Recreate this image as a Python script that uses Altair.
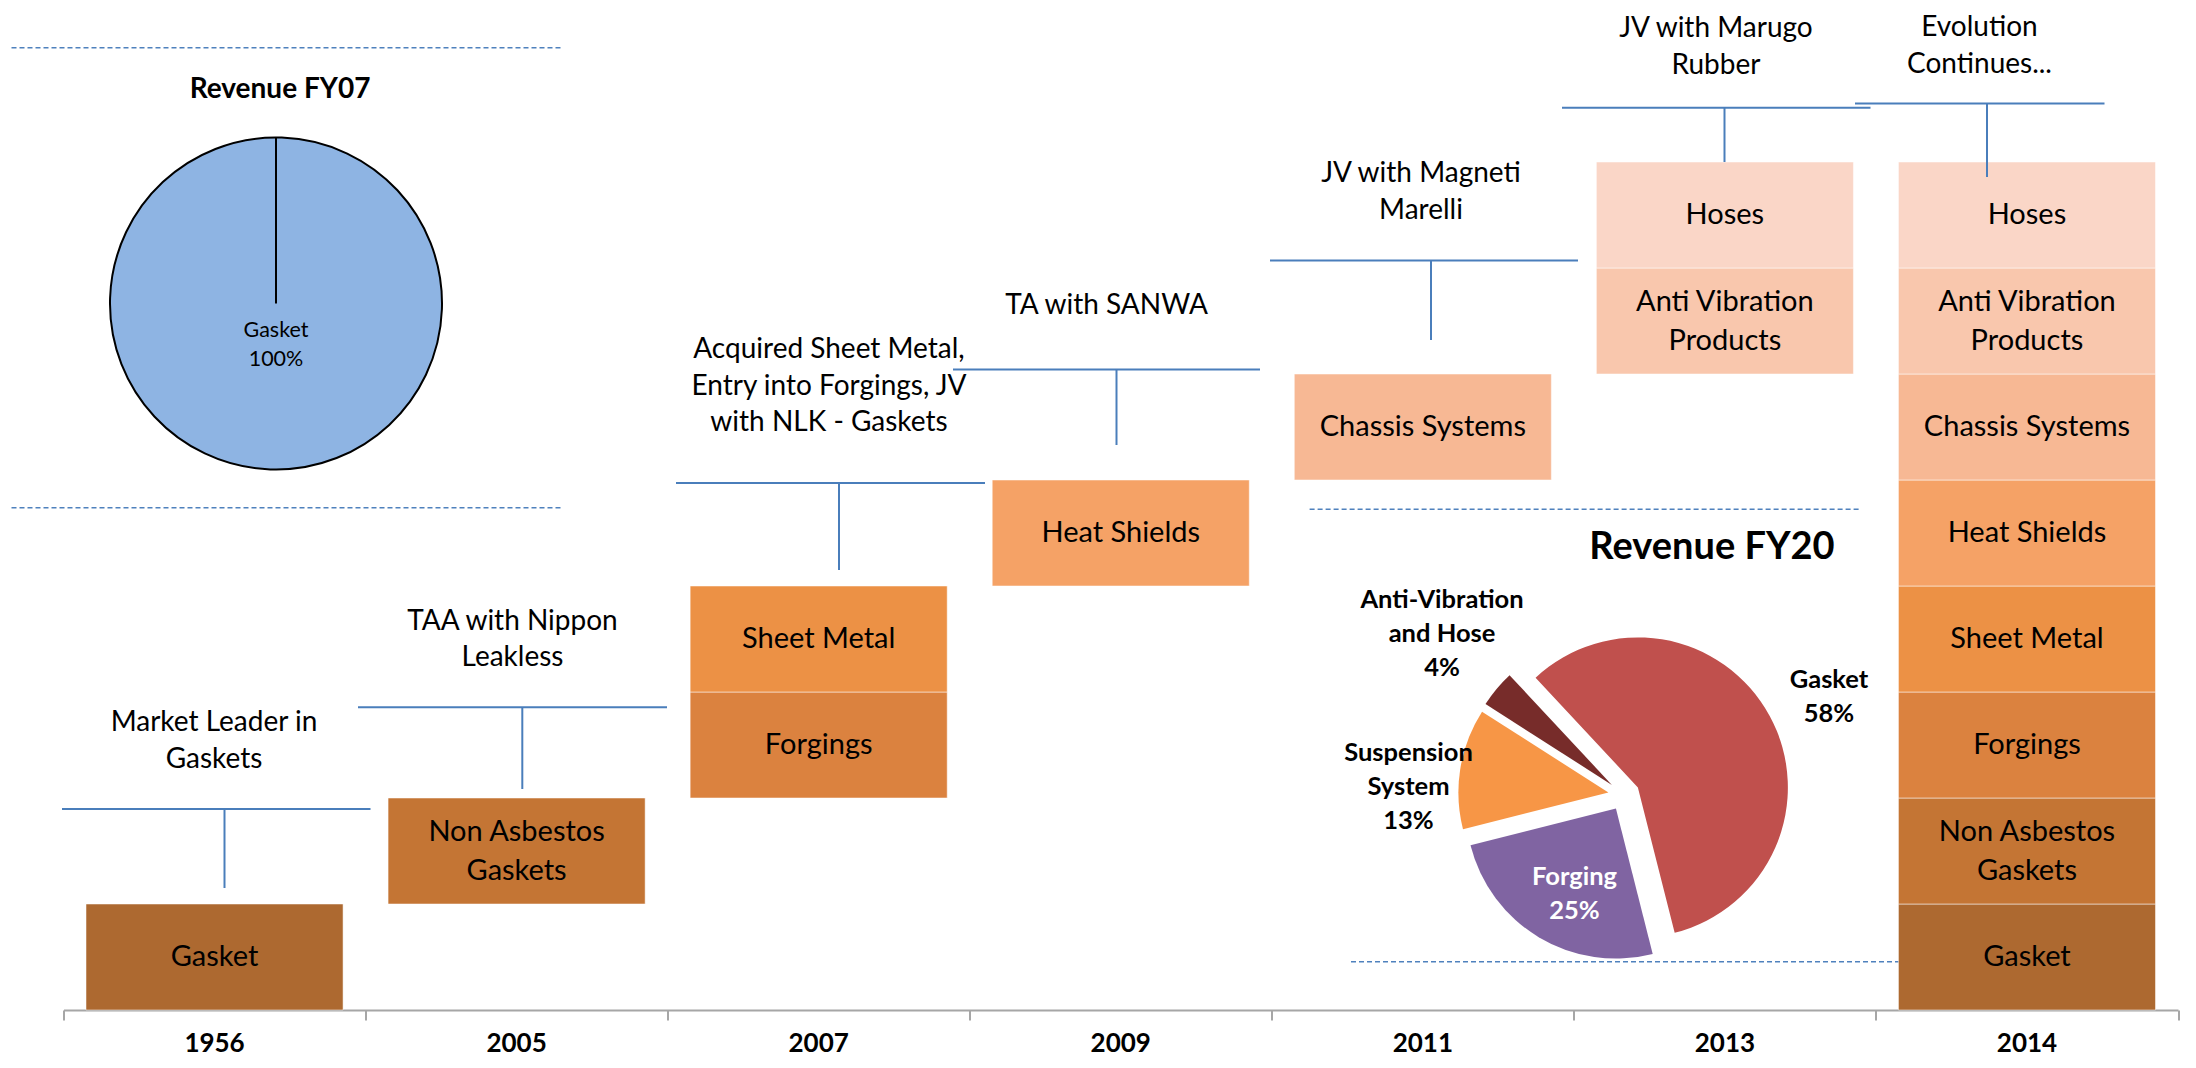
import math
import altair as alt
import pandas as pd

# ---------------- data ----------------
years = ["1956", "2005", "2007", "2009", "2011", "2013", "2014"]
segment_names = ["Gasket", "Non Asbestos\nGaskets", "Forgings", "Sheet Metal",
                 "Heat Shields", "Chassis Systems", "Anti Vibration\nProducts", "Hoses"]
segment_colors = ["#AD6930", "#C47534", "#DB823F", "#EC9145",
                  "#F5A266", "#F7B894", "#F9C7AD", "#FAD6C7"]
year_segments = [[0], [1], [2, 3], [4], [5], [6, 7], [0, 1, 2, 3, 4, 5, 6, 7]]

milestones = ["Market Leader in\nGaskets", "TAA with Nippon\nLeakless",
              "Acquired Sheet Metal,\nEntry into Forgings, JV\nwith NLK - Gaskets",
              "TA with SANWA", "JV with Magneti\nMarelli", "JV with Marugo\nRubber",
              "Evolution\nContinues..."]

fy07_labels = ["Gasket"]
fy07_share = [100]
fy20_labels = ["Gasket", "Forging", "Suspension\nSystem", "Anti-Vibration\nand Hose"]
fy20_share = [58, 25, 13, 4]
fy20_colors = ["#C0504D", "#8064A2", "#F79646", "#772C2A"]
fy20_text_colors = ["black", "white", "black", "black"]

# ---------------- layout ----------------
# plot area: 7 year columns; 1 y unit = one product block
W, H = 2114.5, 1002
XMAX = 7
XU = W / XMAX          # px per column
YU = 106.0             # px per block
YMAX = H / YU
LEFT = 63.5            # page x of plot left edge
AXIS_Y = 8 + H         # page y of x axis
BAR_PAD = 22.5 / XU


def ux(px):
    return (px - LEFT) / XU


def uy(py):
    return (AXIS_Y - py) / YU


# milestone brackets (page pixels)
bracket_y = [809, 707.3, 483, 369.5, 260.5, 107.7, 103.4]
bracket_x0 = [62, 358, 676, 953, 1270, 1562, 1855]
bracket_x1 = [370.5, 667, 985, 1260, 1578, 1870.5, 2104.5]
stem_px = [224.5, 522.3, 839, 1116.5, 1431, 1724.5, 1987]
stem_end = [888, 789, 570, 445, 340, 162, 177]
label_px = [214, 512.5, 829, 1106.6, 1421, 1716, 1979.5]
label_first_line = [723, 621.7, 350, 306, 174, 29, 28]

dash_x0 = [11.5, 11.5, 1309.6, 1351]
dash_x1 = [561.4, 561.4, 1859, 1899]
dash_py = [47.7, 507.7, 509.3, 961.7]

pie07_c = (276, 303.5)
pie07_r = 166
pie07_title = (280, 90)
pie07_label = (276, 330.7)

pie20_c = (1624, 795)
pie20_r = 150
pie20_explode = 15.8
pie20_start_deg = 317
pie20_title = (1712, 548)
pie20_label_px = [1829, 1574.5, 1408.5, 1442]
pie20_label_py = [680, 877, 753, 600]

FONT = "Lato"
LINE_BLUE = "#4A7EBB"
BAR_FS, BAR_LH = 29, 39
ANN_FS, ANN_LH = 28, 36.5

x_axis = alt.Axis(values=list(range(XMAX + 1)), labels=False, ticks=True, tickSize=10,
                  tickColor="#A6A6A6", tickWidth=2, domainColor="#A6A6A6", domainWidth=2,
                  grid=False, title="")
x_scale = alt.Scale(domain=[0, XMAX], nice=False, zero=False)
y_scale = alt.Scale(domain=[0, YMAX], nice=False, zero=False)
theta0 = math.radians(pie20_start_deg)
theta_scale = alt.Scale(domain=[0, 100], range=[theta0, theta0 + 2 * math.pi])


def X(f):
    return alt.X(f, scale=x_scale, axis=x_axis)


def Y(f):
    return alt.Y(f, scale=y_scale, axis=None)


# ---------------- tables ----------------
bar_rows = []
for i, yr in enumerate(years):
    for s in year_segments[i]:
        n_lines = segment_names[s].count("\n") + 1
        bar_rows.append(dict(year=yr, seg=segment_names[s], color=segment_colors[s],
                             x0=i + BAR_PAD, x1=i + 1 - BAR_PAD, y0=s, y1=s + 1,
                             xm=i + 0.5, ym=s + 0.5 + (n_lines - 1) * BAR_LH / 2 / YU))
bars_df = pd.DataFrame(bar_rows)

ann_df = pd.DataFrame(dict(text=milestones,
                           hy=[uy(v) for v in bracket_y],
                           hx0=[ux(v) for v in bracket_x0],
                           hx1=[ux(v) for v in bracket_x1],
                           sx=[ux(v) for v in stem_px],
                           sb=[uy(v) for v in stem_end],
                           tx=[ux(v) for v in label_px],
                           ty=[uy(v) for v in label_first_line]))
dash_df = pd.DataFrame(dict(x0=[ux(v) for v in dash_x0], x1=[ux(v) for v in dash_x1],
                            y=[uy(v) for v in dash_py]))
years_df = pd.DataFrame(dict(year=years, xm=[i + 0.5 for i in range(len(years))]))

p07_df = pd.DataFrame(dict(label=fy07_labels, share=fy07_share, t0=[0], t1=[100],
                           cx=[ux(pie07_c[0])], cy=[uy(pie07_c[1])],
                           ry=[uy(pie07_c[1] - pie07_r)],
                           lx=[ux(pie07_label[0])], ly=[uy(pie07_label[1])],
                           text=[f"{fy07_labels[0]}\n{fy07_share[0]}%"]))

rows20 = []
cum = 0
for k, (lab, sh) in enumerate(zip(fy20_labels, fy20_share)):
    mid = theta0 + 2 * math.pi * (cum + sh / 2) / 100
    rows20.append(dict(k=k, label=lab, share=sh, t0=cum, t1=cum + sh,
                       color=fy20_colors[k], tcolor=fy20_text_colors[k],
                       cx=ux(pie20_c[0] + pie20_explode * math.sin(mid)),
                       cy=uy(pie20_c[1] - pie20_explode * math.cos(mid)),
                       lx=ux(pie20_label_px[k]), ly=uy(pie20_label_py[k]),
                       text=f"{lab}\n{sh}%"))
    cum += sh
p20_df = pd.DataFrame(rows20)

titles_df = pd.DataFrame(dict(text=["Revenue FY07", "Revenue FY20"],
                              x=[ux(pie07_title[0]), ux(pie20_title[0])],
                              y=[uy(pie07_title[1]), uy(pie20_title[1])],
                              size=[28, 38]))

# ---------------- layers ----------------
bars = alt.Chart(bars_df).mark_rect(stroke="white", strokeWidth=1, strokeOpacity=0.5).encode(
    x=X("x0:Q"), x2="x1:Q", y=Y("y0:Q"), y2="y1:Q", color=alt.Color("color:N", scale=None))
bar_text = alt.Chart(bars_df).mark_text(font=FONT, fontSize=BAR_FS, lineBreak="\n",
                                        lineHeight=BAR_LH, color="black").encode(
    x=X("xm:Q"), y=Y("ym:Q"), text="seg:N")

hlines = alt.Chart(ann_df).mark_rule(color=LINE_BLUE, strokeWidth=2).encode(
    x=X("hx0:Q"), x2="hx1:Q", y=Y("hy:Q"))
stems = alt.Chart(ann_df).mark_rule(color=LINE_BLUE, strokeWidth=2).encode(
    x=X("sx:Q"), y=Y("sb:Q"), y2="hy:Q")
ann_text = alt.Chart(ann_df).mark_text(font=FONT, fontSize=ANN_FS, lineBreak="\n",
                                       lineHeight=ANN_LH, color="black").encode(
    x=X("tx:Q"), y=Y("ty:Q"), text="text:N")

dashes = alt.Chart(dash_df).mark_rule(color="#4F81BD", strokeWidth=1.5, strokeDash=[5, 3]).encode(
    x=X("x0:Q"), x2="x1:Q", y=Y("y:Q"))

pie07 = alt.Chart(p07_df).mark_arc(radius=pie07_r, fill="#8EB4E3", stroke="black",
                                   strokeWidth=2).encode(
    x=X("cx:Q"), y=Y("cy:Q"), theta=alt.Theta("t0:Q", scale=theta_scale), theta2="t1:Q")
pie07_line = alt.Chart(p07_df).mark_rule(color="black", strokeWidth=2).encode(
    x=X("cx:Q"), y=Y("cy:Q"), y2="ry:Q")
pie07_text = alt.Chart(p07_df).mark_text(font=FONT, fontSize=21.5, lineBreak="\n",
                                         lineHeight=29, color="black").encode(
    x=X("lx:Q"), y=Y("ly:Q"), text="text:N")

pie20 = alt.Chart(p20_df).mark_arc(radius=pie20_r).encode(
    x=X("cx:Q"), y=Y("cy:Q"), theta=alt.Theta("t0:Q", scale=theta_scale), theta2="t1:Q",
    color=alt.Color("color:N", scale=None))
pie20_text = alt.Chart(p20_df).mark_text(font=FONT, fontSize=25.5, fontWeight="bold",
                                         lineBreak="\n", lineHeight=34).encode(
    x=X("lx:Q"), y=Y("ly:Q"), text="text:N", color=alt.Color("tcolor:N", scale=None))

titles = alt.Chart(titles_df).mark_text(font=FONT, fontWeight="bold", color="black").encode(
    x=X("x:Q"), y=Y("y:Q"), text="text:N", size=alt.Size("size:Q", scale=None))

year_text = alt.Chart(years_df).mark_text(font=FONT, fontSize=26, fontWeight="bold",
                                          color="black").encode(
    x=X("xm:Q"), y=alt.value(H + 34), text="year:N")

chart = alt.layer(dashes, bars, bar_text, hlines, stems, ann_text, pie07, pie07_line,
                  pie07_text, pie20, pie20_text, titles, year_text).properties(
    width=W, height=H,
    autosize=alt.AutoSizeParams(type="none"),
    padding={"left": LEFT - 8, "top": 0, "right": 2180 - (LEFT - 8) - W, "bottom": 1052 - H},
    background="white",
).configure_view(stroke="transparent")

chart.save("out.html", embed_options={"renderer": "svg", "actions": False})
